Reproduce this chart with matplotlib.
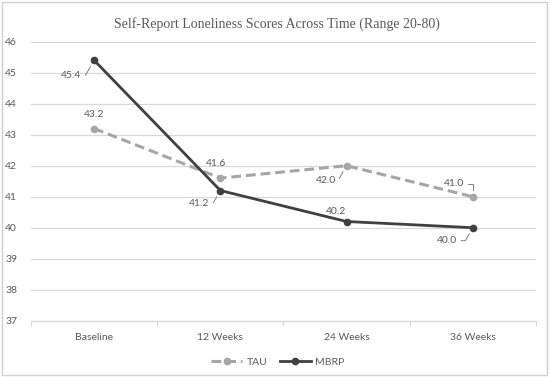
import matplotlib
matplotlib.use("Agg")
import matplotlib.pyplot as plt
from matplotlib.patches import Rectangle

categories = ["Baseline", "12 Weeks", "24 Weeks", "36 Weeks"]
tau = [43.2, 41.6, 42.0, 41.0]
mbrp = [45.4, 41.2, 40.2, 40.0]
yticks = [37, 38, 39, 40, 41, 42, 43, 44, 45, 46]

# label offsets in pixels (dx, dy) and whether a leader line is drawn
tau_off = [(0, 14, False), (-4, 15, False), (-21, -15, True), (-19, 13, True)]
mbrp_off = [(-23, -15, True), (-21, -13, True), (-11, 10, False), (-26, -13, True)]

TXT = "#595959"
GRID = "#d9d9d9"
TAU_C = "#a6a6a6"
MBRP_C = "#404040"
FONT = "Lato"

fig = plt.figure(figsize=(5.5, 3.77), dpi=100)
fig.patches.append(Rectangle((0.004, 0.006), 0.99, 0.988, transform=fig.transFigure,
                             fill=False, edgecolor="#d0d0d0", linewidth=1.0))
ax = fig.add_axes([0.0564, 0.1493, 0.918, 0.7401])

x = list(range(len(categories)))
ax.plot(x, tau, color=TAU_C, linewidth=2.2, linestyle=(0, (3.2, 1.6)),
        marker="o", markersize=4.5, label="TAU", zorder=3)
ax.plot(x, mbrp, color=MBRP_C, linewidth=2.0, marker="o", markersize=4.5,
        label="MBRP", zorder=4)

ax.set_xlim(-0.5, len(categories) - 0.5)
ax.set_ylim(37, 46)
ax.set_yticks(yticks)
ax.set_yticklabels([str(t) for t in yticks], fontsize=7.5, color=TXT, family=FONT)
ax.set_xticks(x)
ax.set_xticklabels(categories, fontsize=7.5, color=TXT, family=FONT)
ax.tick_params(axis="x", length=0, pad=9)
ax.tick_params(axis="y", length=0, pad=10)
# band boundary ticks
ax.set_xticks([i - 0.5 for i in range(len(categories) + 1)], minor=True)
ax.tick_params(axis="x", which="minor", length=3.5, color=GRID, width=0.8)

ax.grid(axis="y", color=GRID, linewidth=0.9)
ax.set_axisbelow(True)
for s in ["top", "right", "left"]:
    ax.spines[s].set_visible(False)
ax.spines["bottom"].set_color(GRID)
ax.spines["bottom"].set_linewidth(0.9)


def add_labels(vals, offs):
    for xi, v, (dx, dy, lead) in zip(x, vals, offs):
        kw = {}
        if lead:
            kw["arrowprops"] = dict(arrowstyle="-", color="#808080", lw=0.7,
                                    shrinkA=1, shrinkB=5,
                                    connectionstyle="angle,angleA=0,angleB=%d,rad=0" % (90 if abs(dx) < 20 and dy > 0 else 60 if dy < 0 else -60))
        ax.annotate(f"{v:.1f}", xy=(xi, v), xytext=(dx, dy), textcoords="offset pixels",
                    ha="center", va="center", fontsize=7.5, color=TXT, family=FONT,
                    zorder=5, **kw)


add_labels(tau, tau_off)
add_labels(mbrp, mbrp_off)

fig.suptitle("Self-Report Loneliness Scores Across Time (Range 20-80)",
             x=0.503, y=0.937, fontsize=10, color=TXT, family="Liberation Serif",
             va="center")

leg = fig.legend(loc="center", bbox_to_anchor=(0.505, 0.04), ncol=2, frameon=False,
                 prop={"family": FONT, "size": 7.5}, handlelength=3.0,
                 columnspacing=1.2, handletextpad=0.4)
for t in leg.get_texts():
    t.set_color(TXT)

fig.savefig("out.png", dpi=100)
